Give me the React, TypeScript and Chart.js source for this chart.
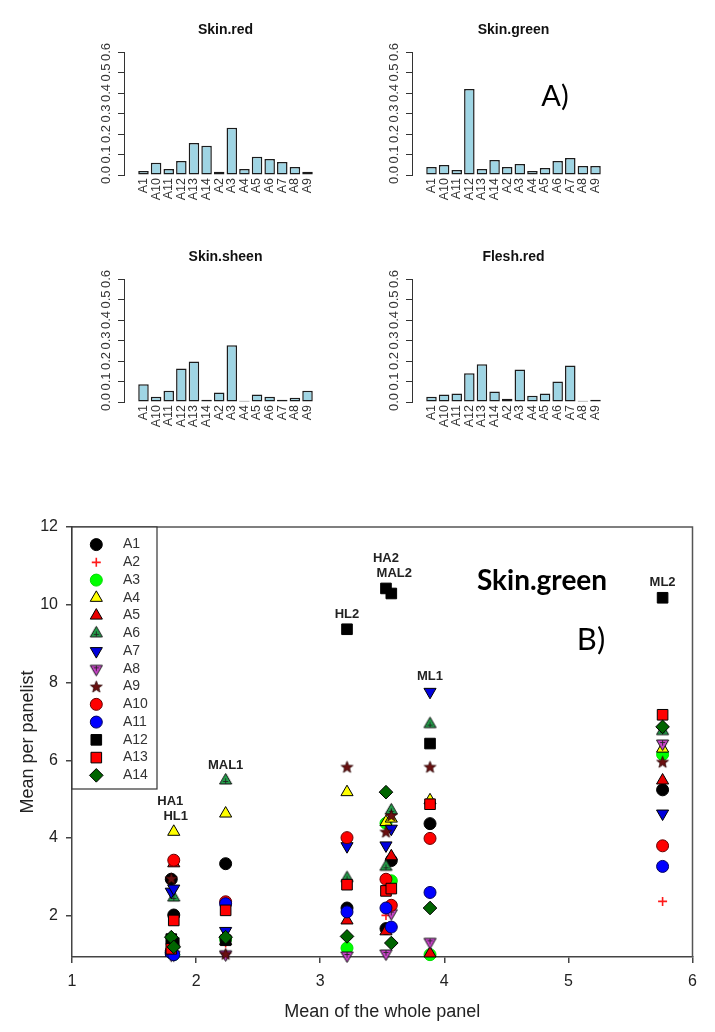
import React, { useEffect, useRef } from 'react';
import { Chart, registerables } from 'chart.js';
import { drawPoint } from 'chart.js/helpers';

Chart.register(...registerables);

const FONT = '"Liberation Sans", Arial, Helvetica, sans-serif';

// ---------- Panel A : proportions per assessor ----------
const categories = ['A1', 'A10', 'A11', 'A12', 'A13', 'A14', 'A2', 'A3', 'A4', 'A5', 'A6', 'A7', 'A8', 'A9'];
const skinRed = [0.019, 0.060, 0.029, 0.068, 0.156, 0.143, 0.016, 0.230, 0.029, 0.089, 0.078, 0.063, 0.039, 0.016];
const skinGreen = [0.039, 0.049, 0.024, 0.420, 0.029, 0.073, 0.039, 0.054, 0.019, 0.034, 0.068, 0.083, 0.044, 0.044];
const skinSheen = [0.086, 0.026, 0.055, 0.163, 0.197, 0.011, 0.046, 0.277, 0.006, 0.036, 0.026, 0.011, 0.021, 0.055];
const fleshRed = [0.026, 0.036, 0.041, 0.140, 0.184, 0.051, 0.016, 0.158, 0.031, 0.041, 0.100, 0.178, 0.006, 0.011];
const barTicks = [0, 0.1, 0.2, 0.3, 0.4, 0.5, 0.6];

// ---------- Panel B : Skin.green, mean per panelist vs whole panel ----------
const products = ['HA1', 'HL1', 'MAL1', 'HL2', 'HA2', 'MAL2', 'ML1', 'ML2'];
const panelMean = [1.80, 1.82, 2.238, 3.216, 3.530, 3.573, 3.885, 5.759];
const assessors = ['A1', 'A2', 'A3', 'A4', 'A5', 'A6', 'A7', 'A8', 'A9', 'A10', 'A11', 'A12', 'A13', 'A14'];
const A1 = [2.94, 2.02, 3.34, 2.20, 1.67, 3.42, 4.37, 5.24];
const A2 = [1.00, 1.02, 1.30, 1.10, 2.01, 1.30, 1.00, 2.37];
const A3 = [1.05, 1.00, 1.40, 1.17, 4.38, 2.90, 1.00, 6.15];
const A4 = [1.10, 4.16, 4.63, 5.18, 4.41, 4.50, 4.97, 6.30];
const A5 = [1.05, 3.35, 1.35, 1.88, 1.60, 3.53, 1.03, 5.48];
const A6 = [1.10, 2.47, 5.48, 2.97, 3.26, 4.71, 6.93, 6.75];
const A7 = [2.62, 2.70, 1.61, 3.79, 3.81, 4.24, 7.76, 4.63];
const A8 = [1.00, 1.00, 1.01, 0.98, 1.03, 2.07, 1.33, 6.43];
const A9 = [2.96, 1.20, 1.02, 5.83, 4.16, 4.58, 5.83, 5.96];
const A10 = [1.10, 3.43, 2.36, 4.01, 2.94, 2.27, 3.99, 3.80];
const A11 = [1.05, 1.00, 2.31, 2.10, 2.20, 1.71, 2.60, 3.27];
const A12 = [1.40, 1.30, 1.37, 9.37, 10.42, 10.29, 6.43, 10.18];
const A13 = [1.15, 1.88, 2.14, 2.80, 2.64, 2.70, 4.87, 7.17];
const A14 = [1.45, 1.20, 1.45, 1.47, 5.18, 1.30, 2.20, 6.86];
const series = [A1, A2, A3, A4, A5, A6, A7, A8, A9, A10, A11, A12, A13, A14];
const xTicks = [1, 2, 3, 4, 5, 6];
const yTicks = [2, 4, 6, 8, 10, 12];

type Marker = { shape: string; fill: string; stroke: string; r: number; rot?: number; bw?: number };
const markers: Marker[] = [
  { shape: 'circle', fill: '#000000', stroke: '#000000', r: 6 },
  { shape: 'cross', fill: '#ff0000', stroke: '#ff1a1a', r: 4.5, bw: 1.6 },
  { shape: 'circle', fill: '#00ff00', stroke: '#00dd00', r: 6 },
  { shape: 'triangle', fill: '#ffff00', stroke: '#000000', r: 7 },
  { shape: 'triangle', fill: '#e80000', stroke: '#000000', r: 7 },
  { shape: 'triCross', fill: '#22a04a', stroke: '#000000', r: 7 },
  { shape: 'triangle', fill: '#0000dd', stroke: '#000000', r: 7, rot: 180 },
  { shape: 'triCrossDown', fill: '#cc44cc', stroke: '#000000', r: 7 },
  { shape: 'star', fill: '#6b1010', stroke: '#2a0000', r: 6 },
  { shape: 'circle', fill: '#ff0000', stroke: '#660000', r: 6 },
  { shape: 'circle', fill: '#0000ff', stroke: '#000060', r: 6 },
  { shape: 'rect', fill: '#000000', stroke: '#000000', r: 7.5 },
  { shape: 'rect', fill: '#ff0000', stroke: '#000000', r: 7.5 },
  { shape: 'rectRot', fill: '#006400', stroke: '#000000', r: 6.8 },
];

function makeTriCross(fill: string, down: boolean): HTMLCanvasElement {
  const c = document.createElement('canvas');
  c.width = 17; c.height = 17;
  const g = c.getContext('2d')!;
  g.translate(8.5, 8.5);
  if (down) g.rotate(Math.PI);
  const r = 7;
  g.beginPath();
  g.moveTo(0, -r);
  g.lineTo(r * 0.866, r * 0.5);
  g.lineTo(-r * 0.866, r * 0.5);
  g.closePath();
  g.fillStyle = fill; g.fill();
  g.strokeStyle = '#111'; g.lineWidth = 1; g.stroke();
  g.beginPath();
  g.moveTo(-2.6, 1); g.lineTo(2.6, 1);
  g.moveTo(0, -2.2); g.lineTo(0, 3.5);
  g.strokeStyle = '#222'; g.lineWidth = 0.9; g.stroke();
  return c;
}

function makeStar(fill: string, stroke: string): HTMLCanvasElement {
  const c = document.createElement('canvas');
  c.width = 15; c.height = 15;
  const g = c.getContext('2d')!;
  g.translate(7.5, 8);
  g.beginPath();
  for (let k = 0; k < 10; k++) {
    const rr = k % 2 === 0 ? 6.2 : 2.6;
    const a = -Math.PI / 2 + (k * Math.PI) / 5;
    const px = Math.cos(a) * rr, py = Math.sin(a) * rr;
    if (k === 0) g.moveTo(px, py); else g.lineTo(px, py);
  }
  g.closePath();
  g.fillStyle = fill; g.fill();
  g.strokeStyle = stroke; g.lineWidth = 0.8; g.stroke();
  return c;
}

function pointStyleFor(m: Marker): any {
  if (m.shape === 'triCross') return makeTriCross(m.fill, false);
  if (m.shape === 'triCrossDown') return makeTriCross(m.fill, true);
  if (m.shape === 'star') return makeStar(m.fill, m.stroke);
  return m.shape;
}

// ---------- layout constants ----------
const BAR_W = 203, BAR_H = 123, BAR_PL = 40, BAR_PT = 40, BAR_PR = 12, BAR_PB = 47;
const barPos = (i: number) => 0.7 + 1.2 * i; // R barplot bar centres

const barDecor = {
  id: 'barDecor',
  afterDraw(chart: any, _args: any, opts: any) {
    const { ctx, chartArea: a } = chart;
    ctx.save();
    ctx.fillStyle = '#111';
    ctx.font = `bold 14px ${FONT}`;
    ctx.textAlign = 'center';
    ctx.textBaseline = 'middle';
    ctx.fillText(opts.title, (a.left + a.right) / 2, a.top - 22);
    if (opts.tag) {
      ctx.font = '29px Lato, "Open Sans", sans-serif';
      ctx.fillStyle = '#000';
      ctx.fillText(opts.tag, a.left + 143, a.top + 45);
    }
    ctx.restore();
  },
};

function barConfig(title: string, values: number[], tag?: string): any {
  return {
    type: 'bar',
    data: {
      datasets: [{
        data: values.map((v, i) => ({ x: barPos(i), y: v })),
        backgroundColor: '#9fd5e4',
        borderColor: '#1c1c1c',
        borderWidth: 1.5,
        borderSkipped: false,
        barPercentage: 1 / 1.2,
        categoryPercentage: 1,
      }],
    },
    options: {
      animation: false,
      responsive: false,
      events: [],
      layout: { padding: { left: 0, right: BAR_PR, top: BAR_PT, bottom: 0 } },
      plugins: { legend: { display: false }, tooltip: { enabled: false }, barDecor: { title, tag } },
      scales: {
        x: {
          type: 'linear', min: -0.464, max: 17.464,
          afterBuildTicks: (s: any) => { s.ticks = categories.map((_, i) => ({ value: barPos(i) })); },
          afterFit: (s: any) => { s.height = BAR_PB; },
          grid: { display: false, drawTicks: false },
          border: { display: false },
          ticks: {
            callback: (_v: any, i: number) => categories[i],
            autoSkip: false, minRotation: 90, maxRotation: 90, padding: 3,
            font: { size: 12.5, family: FONT }, color: '#333',
          },
        },
        y: {
          min: 0, max: 0.6,
          afterBuildTicks: (s: any) => { s.ticks = barTicks.map((v) => ({ value: v })); },
          afterFit: (s: any) => { s.width = BAR_PL; },
          grid: { drawOnChartArea: false, drawTicks: true, tickLength: 6, color: '#333' },
          border: { display: true, color: '#333', width: 1 },
          ticks: {
            autoSkip: false, minRotation: 90, maxRotation: 90, crossAlign: 'center', padding: 3,
            font: { size: 13, family: FONT }, color: '#333',
            callback: (v: any) => Number(v).toFixed(1),
          },
        },
      },
    },
    plugins: [barDecor],
  };
}

const scatterDecor = {
  id: 'scatterDecor',
  afterDatasetsDraw(chart: any) {
    const { ctx, chartArea: a, scales } = chart;
    const xs = scales.x, ys = scales.y;
    ctx.save();
    // frame top/right
    ctx.strokeStyle = '#555';
    ctx.lineWidth = 1.5;
    ctx.beginPath();
    ctx.moveTo(a.left, a.top);
    ctx.lineTo(a.right, a.top);
    ctx.lineTo(a.right, a.bottom);
    ctx.stroke();

    // legend box
    const lx = a.left, ly = a.top, lw = 85, lh = 262;
    ctx.fillStyle = '#fff';
    ctx.fillRect(lx, ly, lw, lh);
    ctx.strokeStyle = '#333';
    ctx.lineWidth = 1.2;
    ctx.strokeRect(lx, ly, lw, lh);
    chart.data.datasets.forEach((ds: any, i: number) => {
      const cy = ly + 17.6 + i * 17.75;
      ctx.fillStyle = ds.pointBackgroundColor;
      ctx.strokeStyle = ds.pointBorderColor;
      ctx.lineWidth = ds.pointBorderWidth;
      drawPoint(ctx, { pointStyle: ds.pointStyle, radius: ds.pointRadius, rotation: ds.pointRotation, borderWidth: ds.pointBorderWidth } as any, lx + 24.3, cy);
      ctx.fillStyle = '#333';
      ctx.font = `14px ${FONT}`;
      ctx.textAlign = 'left';
      ctx.textBaseline = 'middle';
      ctx.fillText(ds.label, lx + 51, cy);
    });

    // product labels stacked above each cluster
    const clusters: number[][] = [];
    products.forEach((_, p) => {
      const last = clusters[clusters.length - 1];
      if (last && Math.abs(panelMean[p] - panelMean[last[last.length - 1]]) < 0.1) last.push(p);
      else clusters.push([p]);
    });
    ctx.font = `bold 13px ${FONT}`;
    ctx.fillStyle = '#222';
    ctx.textAlign = 'center';
    ctx.textBaseline = 'middle';
    clusters.forEach((c) => {
      const top = Math.max(...c.flatMap((p) => series.map((s) => s[p])));
      const baseY = ys.getPixelForValue(top) - 15;
      c.forEach((p, k) => {
        const ty = baseY - (c.length - 1 - k) * 15;
        ctx.fillText(products[p], xs.getPixelForValue(panelMean[p]) + (k > 0 && c.length > 1 ? 3 : 0) - (c[0] === 0 ? 1 : 0), ty);
      });
    });

    // title and tag
    ctx.fillStyle = '#000';
    ctx.font = 'bold 28px Lato, "Open Sans", sans-serif';
    ctx.fillText('Skin.green', 542, 81);
    ctx.font = '31px Lato, "Open Sans", sans-serif';
    ctx.fillText('B)', 591, 140);
    ctx.restore();
  },
};

function scatterConfig(): any {
  return {
    type: 'scatter',
    data: {
      datasets: assessors.map((name, i) => {
        const m = markers[i];
        return {
          label: name,
          data: products.map((_, p) => ({ x: panelMean[p], y: series[i][p] })),
          pointStyle: pointStyleFor(m),
          pointRadius: m.r,
          pointRotation: m.rot || 0,
          pointBackgroundColor: m.fill,
          pointBorderColor: m.stroke,
          pointBorderWidth: m.bw ?? 1,
          order: assessors.length - 1 - i,
          clip: false,
        };
      }),
    },
    options: {
      animation: false,
      responsive: false,
      events: [],
      layout: { padding: { left: 0, right: 22.5, top: 27, bottom: 0 } },
      plugins: { legend: { display: false }, tooltip: { enabled: false } },
      scales: {
        x: {
          type: 'linear', min: 1, max: 6,
          afterBuildTicks: (s: any) => { s.ticks = xTicks.map((v) => ({ value: v })); },
          afterFit: (s: any) => { s.height = 75; },
          grid: { drawOnChartArea: false, drawTicks: true, tickLength: 6, color: '#444', lineWidth: 1.5 },
          border: { display: true, color: '#444', width: 1.5 },
          ticks: { maxRotation: 0, padding: 9, font: { size: 16, family: FONT }, color: '#222' },
          title: { display: true, text: 'Mean of the whole panel', font: { size: 18, family: FONT }, color: '#222', padding: { top: 0, bottom: 9 } },
        },
        y: {
          type: 'linear', min: 0.94, max: 12,
          afterBuildTicks: (s: any) => { s.ticks = yTicks.map((v) => ({ value: v })); },
          afterFit: (s: any) => { s.width = 72; },
          grid: { drawOnChartArea: false, drawTicks: true, tickLength: 6, color: '#444', lineWidth: 1.5 },
          border: { display: true, color: '#444', width: 1.5 },
          ticks: { padding: 8, font: { size: 16, family: FONT }, color: '#222' },
          title: { display: true, text: 'Mean per panelist', font: { size: 18, family: FONT }, color: '#222', padding: { top: 17, bottom: 0 } },
        },
      },
    },
    plugins: [scatterDecor],
  };
}

function ChartCanvas({ make, left, top, width, height }: { make: () => any; left: number; top: number; width: number; height: number }) {
  const ref = useRef<HTMLCanvasElement>(null);
  useEffect(() => {
    const chart = new Chart(ref.current as HTMLCanvasElement, make());
    return () => chart.destroy();
  }, []);
  return (
    <canvas
      ref={ref}
      width={width}
      height={height}
      style={{ position: 'absolute', left, top, width, height, display: 'block' }}
    />
  );
}

export default function App() {
  const bw = BAR_PL + BAR_W + BAR_PR;
  const bh = BAR_PT + BAR_H + BAR_PB;
  return (
    <div style={{ position: 'absolute', left: 0, top: 0, width: 715, height: 1032, background: '#fff', overflow: 'hidden' }}>
      <ChartCanvas make={() => barConfig('Skin.red', skinRed)} left={84} top={12} width={bw} height={bh} />
      <ChartCanvas make={() => barConfig('Skin.green', skinGreen, 'A)')} left={372} top={12} width={bw} height={bh} />
      <ChartCanvas make={() => barConfig('Skin.sheen', skinSheen)} left={84} top={239} width={bw} height={bh} />
      <ChartCanvas make={() => barConfig('Flesh.red', fleshRed)} left={372} top={239} width={bw} height={bh} />
      <ChartCanvas make={scatterConfig} left={0} top={500} width={715} height={532} />
    </div>
  );
}
